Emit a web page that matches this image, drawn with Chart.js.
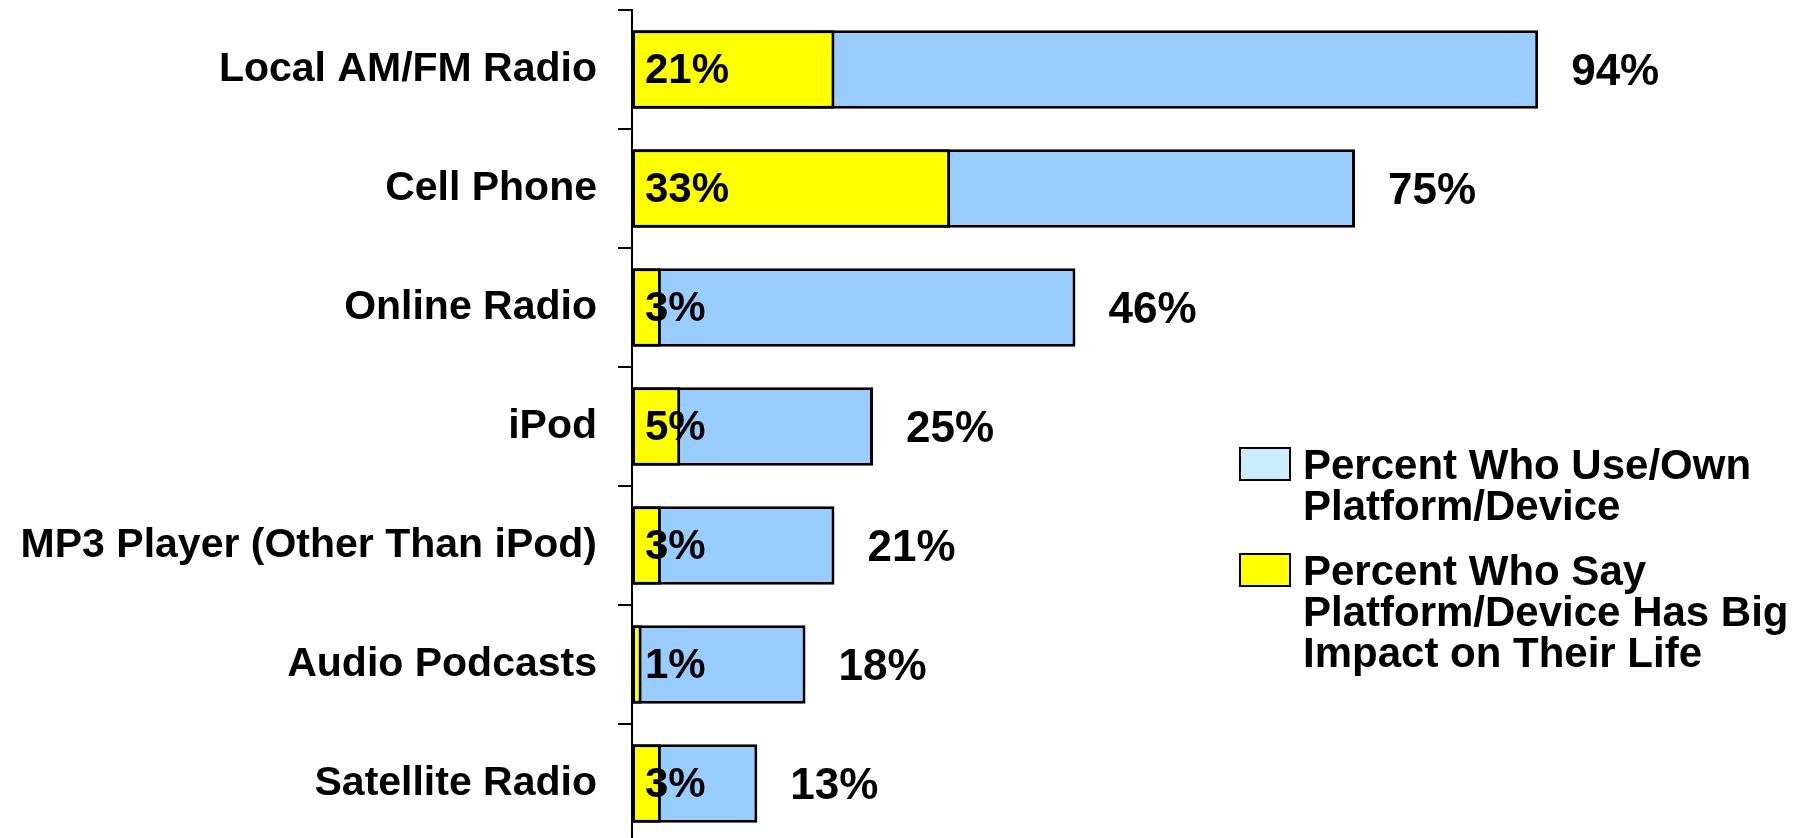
<!DOCTYPE html>
<html>
<head>
<meta charset="utf-8">
<script src="https://cdn.jsdelivr.net/npm/chart.js@4"></script>
<style>
  html, body { margin: 0; padding: 0; background: #fff; overflow: hidden; }
  #wrap { position: relative; width: 1812px; height: 838px; overflow: hidden; }
  .legend-item { position: absolute; left: 1239px; font-family: "Liberation Sans", Arial, sans-serif; font-weight: bold; font-size: 42px; line-height: 41px; color: #000; }
  .legend-box { position: absolute; width: 48px; height: 30px; border: 2px solid #000; }
  .legend-text { position: absolute; left: 64px; white-space: nowrap; }
</style>
</head>
<body>
<div id="wrap">
  <canvas id="platformChart" width="1812" height="845"></canvas>
  <div class="legend-item" style="top:447px">
    <div class="legend-box" style="background:#ccecff"></div>
    <div class="legend-text" style="top:-3px">Percent Who Use/Own<br>Platform/Device</div>
  </div>
  <div class="legend-item" style="top:553px">
    <div class="legend-box" style="background:#ffff00"></div>
    <div class="legend-text" style="top:-3px">Percent Who Say<br>Platform/Device Has Big<br>Impact on Their Life</div>
  </div>
</div>
<script>
const categories = [
  "Local AM/FM Radio",
  "Cell Phone",
  "Online Radio",
  "iPod",
  "MP3 Player (Other Than iPod)",
  "Audio Podcasts",
  "Satellite Radio",
]
const useOwn = [94, 75, 46, 25, 21, 18, 13]
const bigImpact = [21, 33, 3, 5, 3, 1, 3]

const FONT = "'Liberation Sans', Arial, sans-serif"

// value labels: impact share inside the bar, total at the end of the bar
const valueLabels = {
  id: "valueLabels",
  afterDatasetsDraw(chart) {
    const ctx = chart.ctx
    const impactMeta = chart.getDatasetMeta(0)
    const useMeta = chart.getDatasetMeta(1)
    ctx.save()
    ctx.fillStyle = "#000"
    ctx.textBaseline = "middle"
    ctx.textAlign = "left"
    ctx.font = "bold 42px " + FONT
    impactMeta.data.forEach((bar, i) => {
      ctx.fillText(bigImpact[i] + "%", chart.chartArea.left + 13, bar.y + 2)
    })
    ctx.font = "bold 44px " + FONT
    useMeta.data.forEach((bar, i) => {
      ctx.fillText(useOwn[i] + "%", bar.x + 33, bar.y + 3)
    })
    ctx.restore()
  },
}

new Chart(document.getElementById("platformChart"), {
  type: "bar",
  data: {
    labels: categories,
    datasets: [
      {
        label: "Percent Who Say Platform/Device Has Big Impact on Their Life",
        data: bigImpact,
        backgroundColor: "#ffff00",
        borderColor: "#000",
        borderWidth: 3,
        borderSkipped: false,
        grouped: false,
        order: 0,
      },
      {
        label: "Percent Who Use/Own Platform/Device",
        data: useOwn,
        backgroundColor: "#99ccff",
        borderColor: "#000",
        borderWidth: 3,
        borderSkipped: false,
        grouped: false,
        order: 1,
      },
    ],
  },
  options: {
    indexAxis: "y",
    responsive: false,
    animation: false,
    categoryPercentage: 1,
    barPercentage: 0.66,
    layout: { padding: { top: 10, right: 216, bottom: 2, left: 0 } },
    plugins: {
      legend: { display: false },
      tooltip: { enabled: false },
    },
    scales: {
      x: {
        display: false,
        min: 0,
        max: 100,
      },
      y: {
        afterFit: (scale) => {
          scale.width = 632
          scale.paddingTop = 0
          scale.paddingBottom = 0
        },
        border: { display: true, color: "#000", width: 2 },
        grid: {
          drawOnChartArea: false,
          drawTicks: true,
          tickLength: 14,
          color: "#000",
          lineWidth: 2,
        },
        ticks: {
          color: "#000",
          padding: 21,
          font: { family: FONT, size: 41, weight: "bold" },
        },
      },
    },
  },
  plugins: [valueLabels],
})
</script>
</body>
</html>
